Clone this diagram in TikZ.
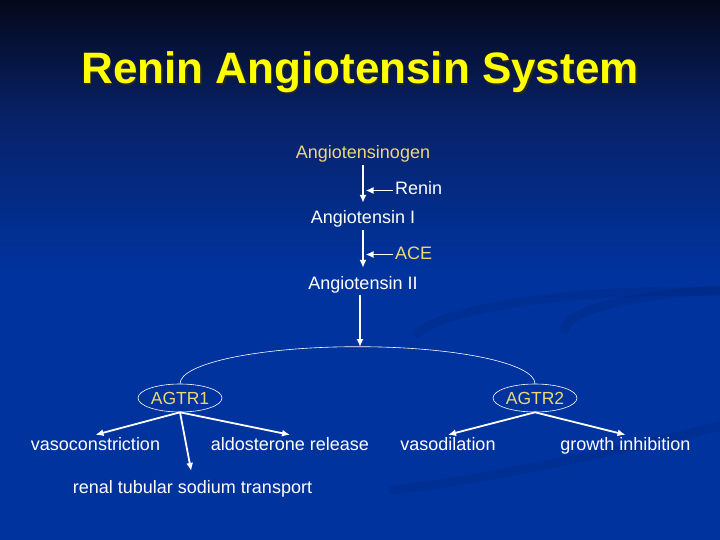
\documentclass[tikz,border=0pt]{standalone}
\usepackage{fontspec}
\setmainfont{Liberation Sans}
\usetikzlibrary{shapes.geometric,arrows.meta}
\definecolor{bgtop}{RGB}{4,8,26}
\definecolor{bgmid}{RGB}{8,34,104}
\definecolor{bgblue}{RGB}{0,51,158}
\definecolor{swirlblue}{RGB}{0,30,105}
\definecolor{titleyellow}{RGB}{255,255,0}
\definecolor{paleyellow}{RGB}{236,216,120}
\pgfdeclareverticalshading{slidebg}{100bp}{color(0bp)=(bgblue); color(25bp)=(bgblue);
  color(50bp)=(bgblue); color(64bp)=(bgmid); color(75bp)=(bgtop); color(100bp)=(bgtop)}
\tikzset{%
  >={Latex[length=8pt,width=7pt]}, % arrow tips
  txt/.style={text=white, font=\fontsize{18}{20}\selectfont,
    text height=13pt, text depth=4pt, inner sep=2pt},%
  receptor/.style={ellipse, draw=white, line width=0.6pt, text=paleyellow,
    font=\fontsize{17.5}{20}\selectfont, text height=13pt, text depth=0pt,
    inner sep=0pt, minimum width=84pt, minimum height=28pt},%
  flow/.style={->, white, line width=1.8pt},%
  thin line/.style={white, line width=0.6pt},%
  swirl/.style={swirlblue, opacity=0.18, line width=9pt, line cap=round}%
}

\begin{document}
\begin{tikzpicture}[x=1pt,y=-1pt] % slide, pixel coordinates

    % background
    \shade[shading=slidebg] (0,0) rectangle (720,540);
    \useasboundingbox (0,0) rectangle (720,540);
    \draw[swirl] (417,333) .. controls (460,300) and (620,288) .. (725,292);
    \draw[swirl] (565,330) .. controls (565,308) and (650,292) .. (725,290);
    \draw[swirl] (393,490) .. controls (500,478) and (640,445) .. (725,425);

    % title
    \node[anchor=base, font=\bfseries\fontsize{44}{48}\selectfont, text=black!85]
      (titleshadow) at (361.5,85.5) {Renin Angiotensin System};
    \node[anchor=base, font=\bfseries\fontsize{44}{48}\selectfont, text=titleyellow]
      (title) at (360,84) {Renin Angiotensin System};

    % cascade
    \node[txt, text=paleyellow] (agen) at (363,154.5) {Angiotensinogen};
    \node[txt] (ang1) at (363,219.5) {Angiotensin I};
    \node[txt] (ang2) at (363,284.5) {Angiotensin II};
    \node[txt, anchor=west] (renin) at (393,190.5) {Renin};
    \node[txt, anchor=west, text=paleyellow] (ace) at (393,254.5) {ACE};

    \draw[flow, shorten >=6pt] (agen.south) -- (ang1.north);
    \draw[flow, shorten >=6pt] (ang1.south) -- (ang2.north);
    \draw[flow, shorten >=2.5pt] (renin.west) -- (renin.west -| agen.south);
    \draw[flow, shorten >=2.5pt] (ace.west) -- (ace.west -| ang1.south);

    % receptors
    \node[receptor] (r1) at (180,398) {AGTR1};
    \node[receptor] (r2) at (535,398) {AGTR2};
    \coordinate (split) at (360,347);
    \draw[thin line] (r1.north) arc[start angle=180, end angle=0,
      x radius=177.5pt, y radius=37pt];
    \draw[flow] (ang2.south -| split) -- (split);

    % effects
    \node[txt] (vaso) at (95.5,445.5) {vasoconstriction};
    \node[txt] (aldo) at (290,445.5) {aldosterone release};
    \node[txt] (renal) at (192.5,488.5) {renal tubular sodium transport};
    \node[txt] (vasod) at (448,445.5) {vasodilation};
    \node[txt] (growth) at (625.5,445.5) {growth inhibition};

    \draw[flow] (r1.south) -- (vaso.north);
    \draw[flow] (r1.south) -- (aldo.north);
    \draw[flow, shorten >=7pt] (r1.south) -- (renal.north);
    \draw[flow] (r2.south) -- (vasod.north);
    \draw[flow] (r2.south) -- (growth.north);

\end{tikzpicture}
\end{document}
